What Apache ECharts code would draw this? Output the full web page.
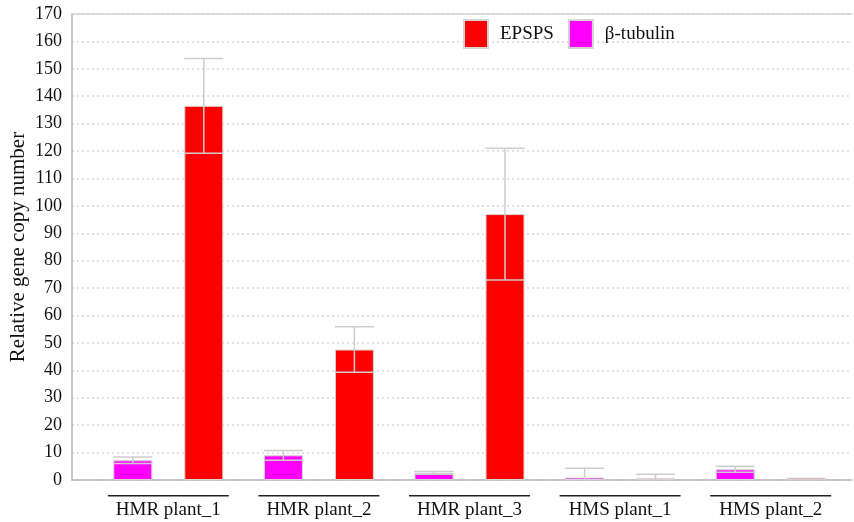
<!DOCTYPE html>
<html>
<head>
<meta charset="utf-8">
<script src="https://cdn.jsdelivr.net/npm/echarts@6/dist/echarts.min.js"></script>
<style>
  html, body { margin: 0; padding: 0; background: #ffffff; }
  #chart { width: 854px; height: 522px; }
</style>
</head>
<body>
<div id="chart"></div>
<script>
// values
var categories = ['HMR plant_1', 'HMR plant_2', 'HMR plant_3', 'HMS plant_1', 'HMS plant_2']
var tubulin = [7.2, 9.0, 2.6, 0.9, 3.9]
var tubulinErr = [1.2, 1.8, 0.5, 3.4, 1.1]
var epsps = [136.5, 47.6, 97, 0.6, 0.8]
var epspsErr = [17.3, 8.3, 24, 1.5, 0]
var yTicks = { min: 0, max: 170, step: 10 }

var serif = 'Liberation Serif'
var barWidth = 39
var barGapPx = 32
var myChart = echarts.init(document.getElementById('chart'))

function errorBars(vals, errs, offset) {
  var st = { stroke: '#cdcdcd', lineWidth: 1.5 }
  return {
    type: 'custom',
    xAxisIndex: 1,
    yAxisIndex: 1,
    clip: true,
    z: 5,
    silent: true,
    data: vals.map(function(v, i) { return [i, v - errs[i], v + errs[i], errs[i]] }),
    renderItem: function(params, api) {
      if (!api.value(3)) return
      var lo = api.coord([api.value(0), api.value(1)])
      var hi = api.coord([api.value(0), api.value(2)])
      var x = lo[0] + offset
      var half = barWidth / 2
      return {
        type: 'group',
        children: [
          { type: 'line', shape: { x1: x, y1: lo[1], x2: x, y2: hi[1] }, style: st },
          { type: 'line', shape: { x1: x - half, y1: hi[1], x2: x + half, y2: hi[1] }, style: st },
          { type: 'line', shape: { x1: x - half, y1: lo[1], x2: x + half, y2: lo[1] }, style: st }
        ]
      }
    }
  }
}

var off = (barWidth + barGapPx) / 2

var option = {
  animation: false,
  legend: {
    data: ['EPSPS', 'β-tubulin'],
    left: 463,
    top: 19,
    padding: 0,
    icon: 'rect',
    itemWidth: 24,
    itemHeight: 28,
    itemGap: 14,
    textStyle: { fontFamily: serif, fontSize: 19, color: '#111', padding: [0, 0, 0, 7] }
  },
  grid: [
    { left: 72, right: 2, top: 14, bottom: 42, outerBoundsMode: 'none' },
    { left: 93, right: 8, top: 14, bottom: 42, outerBoundsMode: 'none' }
  ],
  xAxis: [
    {
      type: 'value', gridIndex: 0, min: 0, max: 1,
      axisLine: { show: true, lineStyle: { color: '#b4b4b4', width: 1.5 } },
      axisTick: { show: false }, axisLabel: { show: false }, splitLine: { show: false }
    },
    {
      type: 'category', gridIndex: 1, data: categories,
      axisLine: { show: false }, axisTick: { show: false }, splitLine: { show: false },
      axisLabel: {
        margin: 15,
        formatter: function(v) { return '{u| }\n{t|' + v + '}' },
        rich: {
          u: { width: 121, height: 1.5, lineHeight: 1.5, fontSize: 1, backgroundColor: '#222' },
          t: { fontFamily: serif, fontSize: 19, color: '#111', lineHeight: 28 }
        }
      }
    },
    {
      type: 'value', gridIndex: 0, position: 'top', min: 0, max: 1,
      axisLine: { show: true, lineStyle: { color: '#d2d2d2', width: 1.5 } },
      axisTick: { show: false }, axisLabel: { show: false }, splitLine: { show: false }
    }
  ],
  yAxis: [
    {
      type: 'value', gridIndex: 0,
      min: yTicks.min, max: yTicks.max, interval: yTicks.step,
      name: 'Relative gene copy number',
      nameLocation: 'middle',
      nameGap: 43,
      nameMoveOverlap: false,
      nameTextStyle: { fontFamily: serif, fontSize: 21, color: '#111' },
      axisLine: { show: true, lineStyle: { color: '#b4b4b4', width: 1.5 } },
      axisTick: { show: false },
      axisLabel: { fontFamily: serif, fontSize: 18, color: '#111', margin: 10 },
      splitLine: { lineStyle: { color: '#d9d9d9', width: 1.5, type: [2, 3] } }
    },
    {
      type: 'value', gridIndex: 1, show: false,
      min: yTicks.min, max: yTicks.max, interval: yTicks.step,
      splitLine: { show: false }
    }
  ],
  series: [
    {
      name: 'β-tubulin', type: 'bar', xAxisIndex: 1, yAxisIndex: 1,
      data: tubulin, barWidth: barWidth, barGap: (barGapPx / barWidth * 100) + '%',
      itemStyle: { color: '#ff00ff', borderColor: '#d4d4d4', borderWidth: 1 }
    },
    {
      name: 'EPSPS', type: 'bar', xAxisIndex: 1, yAxisIndex: 1,
      data: epsps, barWidth: barWidth,
      itemStyle: { color: '#ff0000', borderColor: '#d4d4d4', borderWidth: 1 }
    },
    errorBars(tubulin, tubulinErr, -off),
    errorBars(epsps, epspsErr, off)
  ]
}

myChart.setOption(option)
window.addEventListener('resize', () => {
  myChart.resize()
})
</script>
</body>
</html>
